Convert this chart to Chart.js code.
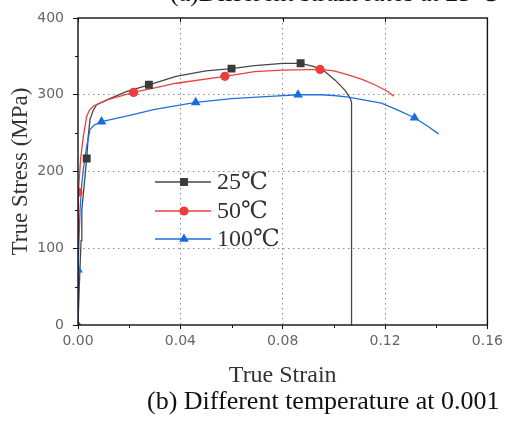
<!DOCTYPE html>
<html><head><meta charset="utf-8">
<script src="https://cdn.jsdelivr.net/npm/chart.js@4"></script>
<style>
html,body{margin:0;padding:0;background:#fff;overflow:hidden}
#wrap{position:relative;width:507px;height:421px;overflow:hidden}
canvas{position:absolute;left:0;top:0}
.cap{position:absolute;font-family:"Liberation Serif","Times New Roman",serif;font-size:26px;line-height:1;white-space:nowrap;color:#111}
</style></head><body>
<div id="wrap"><canvas id="c" width="507" height="421"></canvas>
<div class="cap" style="left:170px;top:-20px">(a)Different strain rates at 25℃</div>
<div class="cap" style="left:147px;top:388px">(b) Different temperature at 0.001</div>
</div>
<script>
// ---- data ----
const seriesNames = ['25℃', '50℃', '100℃'];
const xTicks = [0, 0.04, 0.08, 0.12, 0.16];
const yTicks = [0, 100, 200, 300, 400];
const xMinor = [0.02, 0.06, 0.10, 0.14];
const yMinor = [50, 150, 250, 350];

const strain25 = [0, 0.0005, 0.0012, 0.0015, 0.0025, 0.0034, 0.004, 0.0047, 0.006, 0.0073, 0.0124, 0.0189, 0.0277, 0.0383, 0.05, 0.06, 0.069, 0.08, 0.087, 0.092, 0.0966, 0.1005, 0.1043, 0.1063, 0.1069, 0.1069];
const stress25 = [0, 50, 110, 150, 185, 217, 246, 268, 280, 287, 295, 304, 313, 324, 331, 334, 338, 341, 341, 337, 330, 319, 306, 296, 290, 0];
const mStrain25 = [0.0034, 0.0277, 0.060, 0.087];
const mStress25 = [217, 313, 334, 341];

const strain50 = [0, 0.0001, 0.0002, 0.001, 0.0021, 0.0034, 0.0045, 0.0059, 0.0085, 0.012, 0.0217, 0.03, 0.0383, 0.0574, 0.069, 0.08, 0.0946, 0.1, 0.1056, 0.111, 0.116, 0.1212, 0.1234];
const stress50 = [0, 120, 173, 216, 246, 272, 280, 285, 289, 294, 303, 309, 315, 324, 330, 332, 333, 331, 326, 320, 313, 304, 298];
const mStrain50 = [0, 0.0217, 0.0574, 0.0946];
const mStress50 = [173, 303, 324, 333];

const strain100 = [0, 0, 0.0008, 0.0015, 0.0021, 0.0034, 0.0047, 0.0065, 0.0092, 0.0189, 0.03, 0.046, 0.06, 0.075, 0.086, 0.095, 0.1, 0.1056, 0.1186, 0.125, 0.1315, 0.1367, 0.1409];
const stress100 = [0, 72, 150, 185, 203, 233, 255, 261, 265, 272, 281, 290, 295, 298, 300, 300, 299, 297, 289, 280, 270, 259, 249];
const mStrain100 = [0, 0, 0.0092, 0.046, 0.086, 0.1315];
const mStress100 = [0, 72, 265, 290, 300, 270];

// ---- styles ----
const colors = ['#474747', '#e8403f', '#1f6fdc'];
const markerColors = ['#3a3a3a', '#ee3b3b', '#1a6ae0'];
const shapes = ['rect', 'circle', 'triangle'];
const radii = [5.6, 4.6, 5.6];

const pts = (xs, ys) => xs.map((v, i) => ({x: v, y: ys[i]}));
const curves = [pts(strain25, stress25), pts(strain50, stress50), pts(strain100, stress100)];
const marks = [pts(mStrain25, mStress25), pts(mStrain50, mStress50), pts(mStrain100, mStress100)];

const datasets = [];
curves.forEach((d, i) => datasets.push({
  label: seriesNames[i], data: d, showLine: true, borderColor: colors[i], borderWidth: 1.3,
  pointRadius: 0, pointHoverRadius: 0, tension: 0, order: 10 + (2 - i)
}));
marks.forEach((d, i) => datasets.push({
  label: seriesNames[i] + ' markers', data: d, showLine: false, pointStyle: shapes[i],
  pointRadius: radii[i], backgroundColor: markerColors[i], borderColor: markerColors[i],
  borderWidth: 0, order: 5 - i
}));

const serif = '"Liberation Serif","Times New Roman","DejaVu Serif",serif';

function marker(ctx, shape, r, cx, cy) {
  ctx.beginPath();
  if (shape === 'rect') { const s = r * Math.SQRT1_2; ctx.rect(cx - s, cy - s, 2 * s, 2 * s); }
  else if (shape === 'circle') { ctx.arc(cx, cy, r, 0, Math.PI * 2); }
  else { ctx.moveTo(cx, cy - r); ctx.lineTo(cx + r * 0.866, cy + r * 0.5); ctx.lineTo(cx - r * 0.866, cy + r * 0.5); ctx.closePath(); }
  ctx.fill();
}

const framePlugin = {
  id: 'frame',
  afterDatasetsDraw(chart) {
    const {ctx, chartArea: a, scales: {x, y}} = chart;
    ctx.save();
    ctx.setLineDash([]);
    // legend
    const rows = [182, 211, 239];
    seriesNames.forEach((n, i) => {
      ctx.strokeStyle = colors[i]; ctx.lineWidth = 1.6;
      ctx.beginPath(); ctx.moveTo(155, rows[i]); ctx.lineTo(211, rows[i]); ctx.stroke();
      ctx.fillStyle = markerColors[i];
      marker(ctx, shapes[i], radii[i], 184, rows[i]);
      ctx.fillStyle = '#333'; ctx.font = '24px ' + serif; ctx.textBaseline = 'middle'; ctx.textAlign = 'left';
      ctx.fillText(n, 217, rows[i] + 1);
    });
    // frame
    ctx.strokeStyle = '#111'; ctx.lineWidth = 1.4;
    ctx.strokeRect(a.left, a.top, a.right - a.left, a.bottom - a.top);
    // minor ticks
    ctx.lineWidth = 1;
    yMinor.forEach(v => { const p = Math.round(y.getPixelForValue(v)) + 0.5; ctx.beginPath(); ctx.moveTo(a.left - 3, p); ctx.lineTo(a.left, p); ctx.stroke(); });
    xMinor.forEach(v => { const p = Math.round(x.getPixelForValue(v)) + 0.5; ctx.beginPath(); ctx.moveTo(p, a.bottom); ctx.lineTo(p, a.bottom + 3); ctx.stroke(); });
    xTicks.forEach(v => { const p = Math.round(x.getPixelForValue(v)) + 0.5; ctx.beginPath(); ctx.moveTo(p, a.top); ctx.lineTo(p, a.top + 4); ctx.stroke(); });
    ctx.restore();
  }
};

const gridColor = (c) => (c.tick && (c.index === 0 || c.index === c.scale.ticks.length - 1)) ? 'rgba(0,0,0,0)' : '#8a8a8a';
const tickFont = {family: '"DejaVu Sans",sans-serif', size: 14};

new Chart(document.getElementById('c'), {
  type: 'scatter',
  data: {datasets},
  options: {
    responsive: false, animation: false, devicePixelRatio: 1,
    layout: {padding: {left: 0, right: 18, top: 18, bottom: 30}},
    plugins: {legend: {display: false}, tooltip: {enabled: false}},
    scales: {
      x: {
        type: 'linear', min: 0, max: 0.16,
        afterBuildTicks: s => { s.ticks = xTicks.map(v => ({value: v})); },
        afterFit: s => { s.height = 66; },
        ticks: {callback: v => v.toFixed(2), color: '#666', font: tickFont, padding: 4, maxRotation: 0},
        grid: {color: gridColor, lineWidth: 1, tickColor: '#111', tickLength: 4, tickBorderDash: [], tickWidth: 1, drawTicks: true},
        border: {display: false, dash: [1.5, 3.5]},
        title: {display: true, text: 'True Strain', color: '#333', font: {family: serif, size: 24, lineHeight: 1.2}, padding: {top: 0, bottom: 1}}
      },
      y: {
        type: 'linear', min: 0, max: 400,
        afterBuildTicks: s => { s.ticks = yTicks.map(v => ({value: v})); },
        afterFit: s => { s.width = 78; },
        ticks: {color: '#666', font: tickFont, padding: 9},
        grid: {color: gridColor, lineWidth: 1, tickColor: '#111', tickLength: 5, tickBorderDash: [], tickWidth: 1, drawTicks: true},
        border: {display: false, dash: [1.5, 3.5]},
        title: {display: true, text: 'True Stress (MPa)', color: '#333', font: {family: serif, size: 23, lineHeight: 1.2}, padding: {top: 7, bottom: 0}}
      }
    }
  },
  plugins: [framePlugin]
});
</script>
</body></html>
